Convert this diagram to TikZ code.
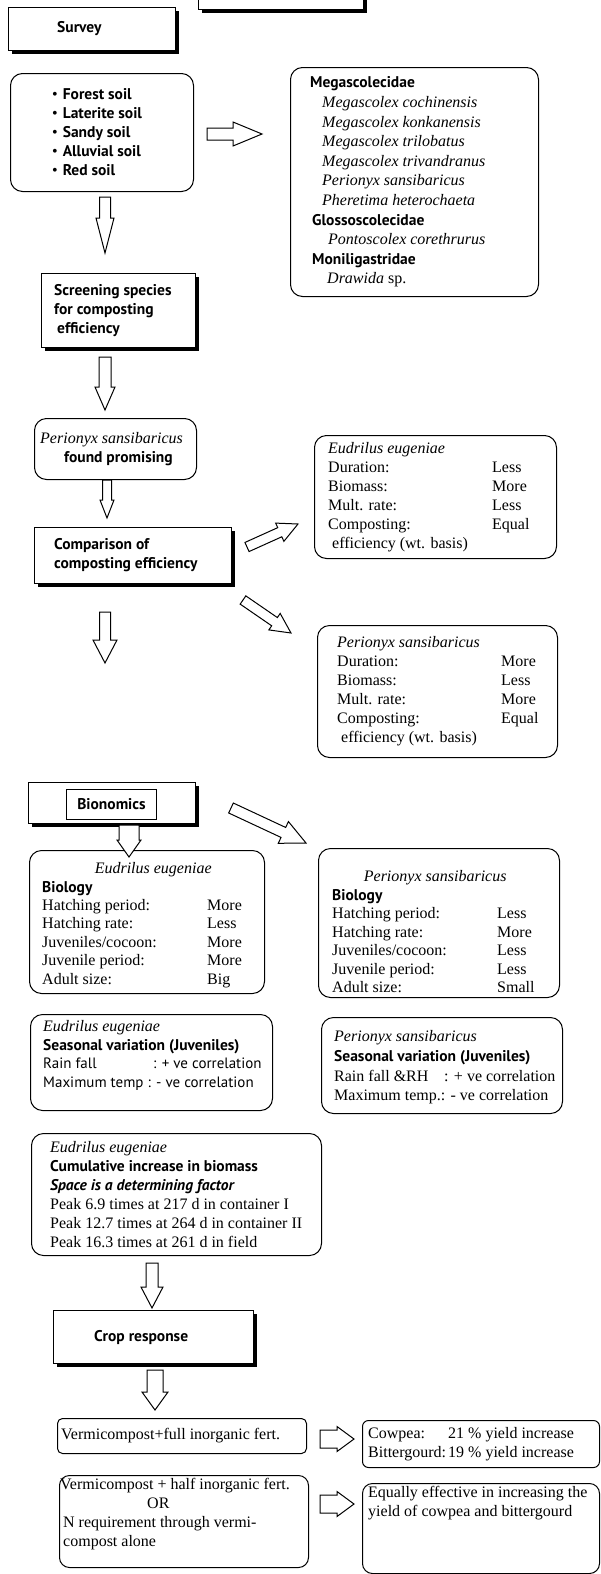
\documentclass[tikz,border=0pt]{standalone}
\usepackage{fontspec}
\setmainfont{Liberation Serif}
\newfontfamily\hdfont{PT Sans}
\usetikzlibrary{positioning,calc,shadows}

\newcommand{\hd}[1]{{\hdfont\bfseries\fontsize{15.5}{19}\selectfont #1}}
\newcommand{\sn}[1]{{\hdfont\fontsize{15}{19}\selectfont #1}}
\newcommand{\kv}[3]{\makebox[#1][l]{#2}#3}

% hollow block arrow: tail, tip, shaft half width, head half width, head length
\newcommand{\fatarrow}[5]{%
  \path ($(#2)!#5!(#1)$) coordinate (fa-base);
  \draw[fat] ($(#1)!#3!90:(#2)$) -- ($(fa-base)!#3!90:(#2)$)
    -- ($(fa-base)!#4!90:(#2)$) -- (#2) -- ($(fa-base)!#4!-90:(#2)$)
    -- ($(fa-base)!#3!-90:(#2)$) -- ($(#1)!#3!-90:(#2)$) -- cycle;}

\tikzset{
  box/.style={draw, line width=1pt, fill=white, inner sep=0pt, anchor=north west},
  sqbox/.style={box, drop shadow={shadow xshift=3pt, shadow yshift=-3pt, opacity=1, fill=black}},
  rbox/.style={box, rounded corners=12pt},
  lbl/.style={font=\fontsize{16}{19}\selectfont, align=left, inner sep=0pt},
  fat/.style={line width=1pt, fill=white, line join=miter},
}

\begin{document}
\begin{tikzpicture}[x=1pt, y=-1pt]
\useasboundingbox (0,0) rectangle (600,1574);
\clip (0,0) rectangle (600,1574);

% Survey
\node[sqbox, anchor=south west, minimum width=165pt, minimum height=40pt] (head) at (198,10) {};
\node[sqbox, minimum width=167pt, minimum height=43pt] (survey) at (8,7) {};
\node[lbl, right=49pt of survey.west] (survey-t) {\hd{Survey}};

\node[rbox, minimum width=183pt, minimum height=118pt] (soil) at (10,73) {};
\node[lbl, right=42pt of soil.west] (soil-t) {\textbullet\hspace{5pt}\hd{Forest soil}\\
  \textbullet\hspace{5pt}\hd{Laterite soil}\\
  \textbullet\hspace{5pt}\hd{Sandy soil}\\
  \textbullet\hspace{5pt}\hd{Alluvial soil}\\
  \textbullet\hspace{5pt}\hd{Red soil}};

\node[rbox, minimum width=248pt, minimum height=229pt] (family) at (290,67) {};
\node[lbl, font=\fontsize{16}{19.6}\selectfont, right=20pt of family.west] (family-t) {\hd{Megascolecidae}\\
  \hspace*{12pt}\textit{Megascolex cochinensis}\\
  \hspace*{12pt}\textit{Megascolex konkanensis}\\
  \hspace*{12pt}\textit{Megascolex trilobatus}\\
  \hspace*{12pt}\textit{Megascolex trivandranus}\\
  \hspace*{12pt}\textit{Perionyx sansibaricus}\\
  \hspace*{12pt}\textit{Pheretima heterochaeta}\\
  \hspace*{2pt}\hd{Glossoscolecidae}\\
  \hspace*{18pt}\textit{Pontoscolex corethrurus}\\
  \hspace*{2pt}\hd{Moniligastridae}\\
  \hspace*{17pt}\textit{Drawida} sp.};

% Screening
\node[sqbox, minimum width=154pt, minimum height=74pt] (screen) at (41,273) {};
\node[lbl, right=13pt of screen.west] (screen-t) {\hd{Screening species}\\\hd{for composting}\\\hspace*{3pt}\hd{efficiency}};

\node[rbox, minimum width=162pt, minimum height=61pt] (promising) at (34,418) {};
\node[lbl, right=6pt of promising.west] (promising-t) {\textit{Perionyx sansibaricus}\\\hspace*{24pt}\hd{found promising}};

% Comparison
\node[sqbox, minimum width=197pt, minimum height=56pt] (compare) at (34,527) {};
\node[lbl, right=20pt of compare.west] (compare-t) {\hd{Comparison of}\\\hd{composting efficiency}};

\node[rbox, minimum width=242pt, minimum height=123pt] (eucomp) at (314,435) {};
\node[lbl, right=14pt of eucomp.west] (eucomp-t) {\textit{Eudrilus eugeniae}\\
  \kv{164pt}{Duration:}{Less}\\
  \kv{164pt}{Biomass:}{More}\\
  \kv{164pt}{Mult. rate:}{Less}\\
  \kv{164pt}{Composting:}{Equal}\\
  \hspace*{4pt}efficiency (wt. basis)};

\node[rbox, minimum width=240pt, minimum height=132pt] (pscomp) at (317,625) {};
\node[lbl, right=20pt of pscomp.west] (pscomp-t) {\textit{Perionyx sansibaricus}\\
  \kv{164pt}{Duration:}{More}\\
  \kv{164pt}{Biomass:}{Less}\\
  \kv{164pt}{Mult. rate:}{More}\\
  \kv{164pt}{Composting:}{Equal}\\
  \hspace*{4pt}efficiency (wt. basis)};

% Bionomics
\node[sqbox, minimum width=167pt, minimum height=41pt] (bion) at (28,782) {};
\node[box, minimum width=90pt, minimum height=30pt] (bion-t) at (66,789) {\hd{Bionomics}};

\node[rbox, minimum width=235pt, minimum height=143pt] (eubio) at (29,850) {};
\node[lbl, font=\fontsize{16}{18.4}\selectfont, right=13pt of eubio.west, yshift=-3pt] (eubio-t) {\makebox[222pt][c]{\textit{Eudrilus eugeniae}}\\
  \hd{Biology}\\
  \kv{165pt}{Hatching period:}{More}\\
  \kv{165pt}{Hatching rate:}{Less}\\
  \kv{165pt}{Juveniles/cocoon:}{More}\\
  \kv{165pt}{Juvenile period:}{More}\\
  \kv{165pt}{Adult size:}{Big}};

\node[rbox, minimum width=241pt, minimum height=149pt] (psbio) at (318,848) {};
\node[lbl, font=\fontsize{16}{18.5}\selectfont, right=14pt of psbio.west, yshift=-9pt] (psbio-t) {\makebox[206pt][c]{\textit{Perionyx sansibaricus}}\\
  \hd{Biology}\\
  \kv{165pt}{Hatching period:}{Less}\\
  \kv{165pt}{Hatching rate:}{More}\\
  \kv{165pt}{Juveniles/cocoon:}{Less}\\
  \kv{165pt}{Juvenile period:}{Less}\\
  \kv{165pt}{Adult size:}{Small}};

\node[rbox, minimum width=242pt, minimum height=96pt] (euseas) at (30,1014) {};
\node[lbl, font=\fontsize{16}{18.7}\selectfont, right=13pt of euseas.west, yshift=7pt] (euseas-t) {\textit{Eudrilus eugeniae}\\
  \hd{Seasonal variation (Juveniles)}\\
  \sn{\makebox[110pt][l]{Rain fall}: + ve correlation}\\
  \sn{Maximum temp : - ve correlation}};

\node[rbox, minimum width=241pt, minimum height=96pt] (psseas) at (321,1017) {};
\node[lbl, font=\fontsize{16}{19.6}\selectfont, right=13pt of psseas.west, yshift=-2pt] (psseas-t) {\textit{Perionyx sansibaricus}\\
  \hd{Seasonal variation (Juveniles)}\\
  \kv{110pt}{Rain fall \&RH}{: + ve correlation}\\
  Maximum temp.: - ve correlation};

\node[rbox, minimum width=290pt, minimum height=122pt] (cumul) at (31,1133) {};
\node[lbl, right=19pt of cumul.west] (cumul-t) {\textit{Eudrilus eugeniae}\\
  \hd{Cumulative increase in biomass}\\
  {\hdfont\bfseries\itshape\fontsize{15.5}{19}\selectfont Space is a determining factor}\\
  Peak 6.9 times at 217 d in container I\\
  Peak 12.7 times at 264 d in container II\\
  Peak 16.3 times at 261 d in field};

% Crop response
\node[sqbox, minimum width=200pt, minimum height=53pt] (crop) at (53,1310) {};
\node[lbl, right=41pt of crop.west] (crop-t) {\hd{Crop response}};

\node[rbox, rounded corners=5pt, minimum width=249pt, minimum height=35pt] (vfull) at (57,1418) {};
\node[lbl, right=4pt of vfull.west] (vfull-t) {Vermicompost+full inorganic fert.};

\node[rbox, rounded corners=6pt, minimum width=237pt, minimum height=47pt] (cowpea) at (362,1420) {};
\node[lbl, right=6pt of cowpea.west] (cowpea-t) {\kv{80pt}{Cowpea:}{21 \% yield increase}\\
  \kv{80pt}{Bittergourd:}{19 \% yield increase}};

\node[rbox, rounded corners=10pt, minimum width=249pt, minimum height=92pt] (vhalf) at (59,1475) {};
\node[lbl, right=1pt of vhalf.west, yshift=7pt] (vhalf-t) {Vermicompost + half inorganic fert.\\
  \hspace*{87pt}OR\\
  \hspace*{3pt}N requirement through vermi-\\
  \hspace*{3pt}compost alone};

\node[rbox, rounded corners=10pt, minimum width=237pt, minimum height=90pt] (equal) at (362,1483) {};
\node[lbl, below right=3pt and 6pt of equal.north west] (equal-t) {Equally effective in increasing the\\
  yield of cowpea and bittergourd};

% Arrows
\coordinate (a1) at (207,134);  \coordinate (b1) at (262,134);
\coordinate (a2) at (105,197);  \coordinate (b2) at (105,253);
\coordinate (a3) at (105,357);  \coordinate (b3) at (105,410);
\coordinate (a4) at (107,480);  \coordinate (b4) at (107,518);
\coordinate (a5) at (247,547);  \coordinate (b5) at (298,524);
\coordinate (a6) at (243,600);  \coordinate (b6) at (291,633);
\coordinate (a7) at (105,612);  \coordinate (b7) at (105,663);
\coordinate (a8) at (231,808);  \coordinate (b8) at (306,843);
\coordinate (a9) at (129,825);  \coordinate (b9) at (129,857);
\coordinate (a10) at (152,1263); \coordinate (b10) at (152,1308);
\coordinate (a11) at (155,1370); \coordinate (b11) at (155,1410);
\coordinate (a12) at (320,1439); \coordinate (b12) at (354,1439);
\coordinate (a13) at (320,1504); \coordinate (b13) at (354,1504);

\fatarrow{a1}{b1}{6pt}{12pt}{29pt}
\fatarrow{a2}{b2}{5.5pt}{9pt}{35pt}
\fatarrow{a3}{b3}{6pt}{10pt}{23pt}
\fatarrow{a4}{b4}{4.5pt}{7pt}{18pt}
\fatarrow{a5}{b5}{5pt}{10pt}{20pt}
\fatarrow{a6}{b6}{5pt}{10pt}{20pt}
\fatarrow{a7}{b7}{5.5pt}{12pt}{23pt}
\fatarrow{a8}{b8}{5.5pt}{12pt}{25pt}
\fatarrow{a9}{b9}{10pt}{12pt}{17pt}
\fatarrow{a10}{b10}{6pt}{11pt}{21pt}
\fatarrow{a11}{b11}{8pt}{13pt}{18pt}
\fatarrow{a12}{b12}{9pt}{12.5pt}{17pt}
\fatarrow{a13}{b13}{9pt}{12.5pt}{17pt}
\end{tikzpicture}
\end{document}
